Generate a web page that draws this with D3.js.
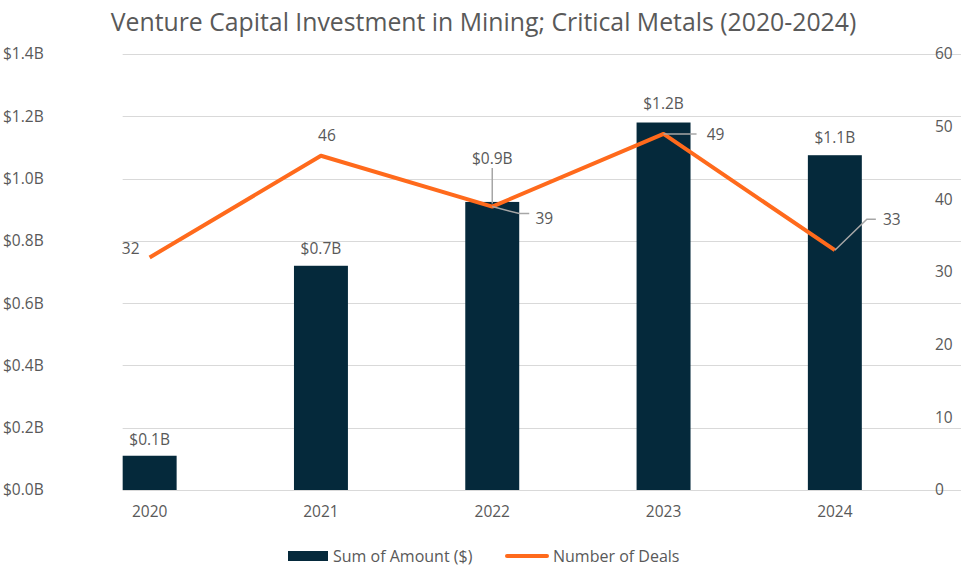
<!DOCTYPE html>
<html>
<head>
<meta charset="utf-8">
<title>Venture Capital Investment in Mining; Critical Metals</title>
<script src="https://d3js.org/d3.v7.min.js"></script>
<style>
	body {
		margin: 0;
		font-family: "Open Sans", sans-serif;
		background: #fff;
	}
	text {
		fill: #595959;
	}
	.grid line {
		stroke: #d9d9d9;
		stroke-width: 1px;
	}
	.leader {
		fill: none;
		stroke: #a6a6a6;
		stroke-width: 1.5px;
	}
</style>
</head>
<body>
<script>
	var years = ["2020", "2021", "2022", "2023", "2024"];
	var amounts = [0.11, 0.72, 0.925, 1.18, 1.075]; // $B
	var deals = [32, 46, 39, 49, 33];
	var amountTicks = [0, 0.2, 0.4, 0.6, 0.8, 1.0, 1.2, 1.4];
	var dealTicks = [0, 10, 20, 30, 40, 50, 60];

	var width = 961,
			height = 586,
			margin = { top: 54, right: 40, bottom: 96, left: 64 },
			fontSize = "15.5px";

	var svg = d3.select("body").append("svg")
			.attr("width", width)
			.attr("height", height);

	var x = d3.scaleBand()
			.domain(years)
			.range([margin.left, width - margin.right - 0.5])
			.paddingInner(0.685)
			.paddingOuter(0.3425);

	var yL = d3.scaleLinear()
			.domain([0, 1.4])
			.range([height - margin.bottom, margin.top]);

	var yR = d3.scaleLinear()
			.domain([0, 60])
			.range([height - margin.bottom, margin.top]);

	var step = x.step(),
			x0 = x(years[0]) - step * x.paddingOuter() + step * x.paddingInner() / 2,
			x1 = x0 + step * years.length;

	// title
	svg.append("text")
			.attr("x", width / 2 + 3)
			.attr("y", 31)
			.attr("text-anchor", "middle")
			.style("font-size", "24.8px")
			.text("Venture Capital Investment in Mining; Critical Metals (2020-2024)");

	// gridlines
	svg.append("g").attr("class", "grid")
		.selectAll("line")
		.data(amountTicks)
		.enter().append("line")
			.attr("x1", x0)
			.attr("x2", x1)
			.attr("y1", function(d) { return Math.round(yL(d)) + 0.5; })
			.attr("y2", function(d) { return Math.round(yL(d)) + 0.5; });

	// left axis
	var leftAxis = svg.append("g")
			.attr("transform", "translate(" + 3 + ",0)")
			.call(d3.axisLeft(yL).tickValues(amountTicks).tickSize(0).tickFormat(function(d) { return "$" + d.toFixed(1) + "B"; }));
	leftAxis.select(".domain").remove();
	leftAxis.selectAll("text")
			.attr("text-anchor", "start")
			.attr("x", 0)
			.style("font-size", fontSize)
			.style("font-family", "Open Sans, sans-serif");

	// right axis
	var rightAxis = svg.append("g")
			.attr("transform", "translate(" + 935 + ",0)")
			.call(d3.axisRight(yR).tickValues(dealTicks).tickSize(0));
	rightAxis.select(".domain").remove();
	rightAxis.selectAll("text")
			.attr("x", 0)
			.style("font-size", fontSize)
			.style("font-family", "Open Sans, sans-serif");

	// x axis
	var bottomAxis = svg.append("g")
			.attr("transform", "translate(0," + (height - margin.bottom) + ")")
			.call(d3.axisBottom(x).tickSize(0).tickPadding(16));
	bottomAxis.select(".domain").remove();
	bottomAxis.selectAll("text")
			.style("font-size", fontSize)
			.style("font-family", "Open Sans, sans-serif");

	// bars
	svg.append("g")
		.selectAll("rect")
		.data(years)
		.enter().append("rect")
			.attr("x", function(d) { return x(d); })
			.attr("width", x.bandwidth())
			.attr("y", function(d, i) { return yL(amounts[i]); })
			.attr("height", function(d, i) { return yL(0) - yL(amounts[i]); })
			.style("fill", "#05293b");

	// line
	var line = d3.line()
			.x(function(d, i) { return x(years[i]) + x.bandwidth() / 2; })
			.y(function(d) { return yR(d); });

	svg.append("path")
			.datum(deals)
			.attr("d", line)
			.style("fill", "none")
			.style("stroke", "#ff6a1c")
			.style("stroke-width", 4)
			.style("stroke-linejoin", "round");

	// bar labels (dx, dy offsets from bar top centre)
	var barLabelOffsets = [[0, -11], [0, -12], [0, -38], [0, -14], [0, -12]];
	svg.append("g")
		.selectAll("text")
		.data(years)
		.enter().append("text")
			.attr("x", function(d, i) { return x(d) + x.bandwidth() / 2 + barLabelOffsets[i][0]; })
			.attr("y", function(d, i) { return yL(amounts[i]) + barLabelOffsets[i][1]; })
			.attr("text-anchor", "middle")
			.style("font-size", fontSize)
			.text(function(d, i) { return "$" + amounts[i].toFixed(1) + "B"; });

	// leader line for 2022 bar label
	var cx2 = x("2022") + x.bandwidth() / 2;
	svg.append("path").attr("class", "leader")
			.attr("d", "M" + cx2 + "," + (yL(amounts[2]) - 34) + "V" + (yR(deals[2]) - 3));

	// deal labels: offsets from the point, and leader lines where Excel drew them
	var dealLabelOffsets = [[-19, -3], [6, -15], [52, 17], [52, 6], [57, -25]];
	svg.append("g")
		.selectAll("text")
		.data(deals)
		.enter().append("text")
			.attr("x", function(d, i) { return x(years[i]) + x.bandwidth() / 2 + dealLabelOffsets[i][0]; })
			.attr("y", function(d, i) { return yR(d) + dealLabelOffsets[i][1]; })
			.attr("text-anchor", "middle")
			.style("font-size", fontSize)
			.text(function(d) { return d; });

	var px = function(i) { return x(years[i]) + x.bandwidth() / 2; },
			py = function(i) { return yR(deals[i]); };

	svg.append("path").attr("class", "leader")
			.attr("d", "M" + px(2) + "," + py(2) + "L" + (px(2) + 27) + "," + (py(2) + 7) + "H" + (px(2) + 37));
	svg.append("path").attr("class", "leader")
			.attr("d", "M" + px(3) + "," + py(3) + "H" + (px(3) + 33));
	svg.append("path").attr("class", "leader")
			.attr("d", "M" + px(4) + "," + py(4) + "L" + (px(4) + 32) + "," + (py(4) - 31) + "H" + (px(4) + 41));

	// legend
	var legend = svg.append("g").attr("transform", "translate(0,556)");
	legend.append("rect")
			.attr("x", 288).attr("y", -5)
			.attr("width", 40).attr("height", 10)
			.style("fill", "#05293b");
	legend.append("text")
			.attr("x", 333).attr("y", 5.5)
			.style("font-size", "16px")
			.text("Sum of Amount ($)");
	legend.append("line")
			.attr("x1", 507).attr("x2", 547)
			.attr("y1", 0).attr("y2", 0)
			.style("stroke", "#ff6a1c")
			.style("stroke-width", 4)
			.style("stroke-linecap", "round");
	legend.append("text")
			.attr("x", 553).attr("y", 5.5)
			.style("font-size", "16px")
			.text("Number of Deals");
</script>
</body>
</html>
